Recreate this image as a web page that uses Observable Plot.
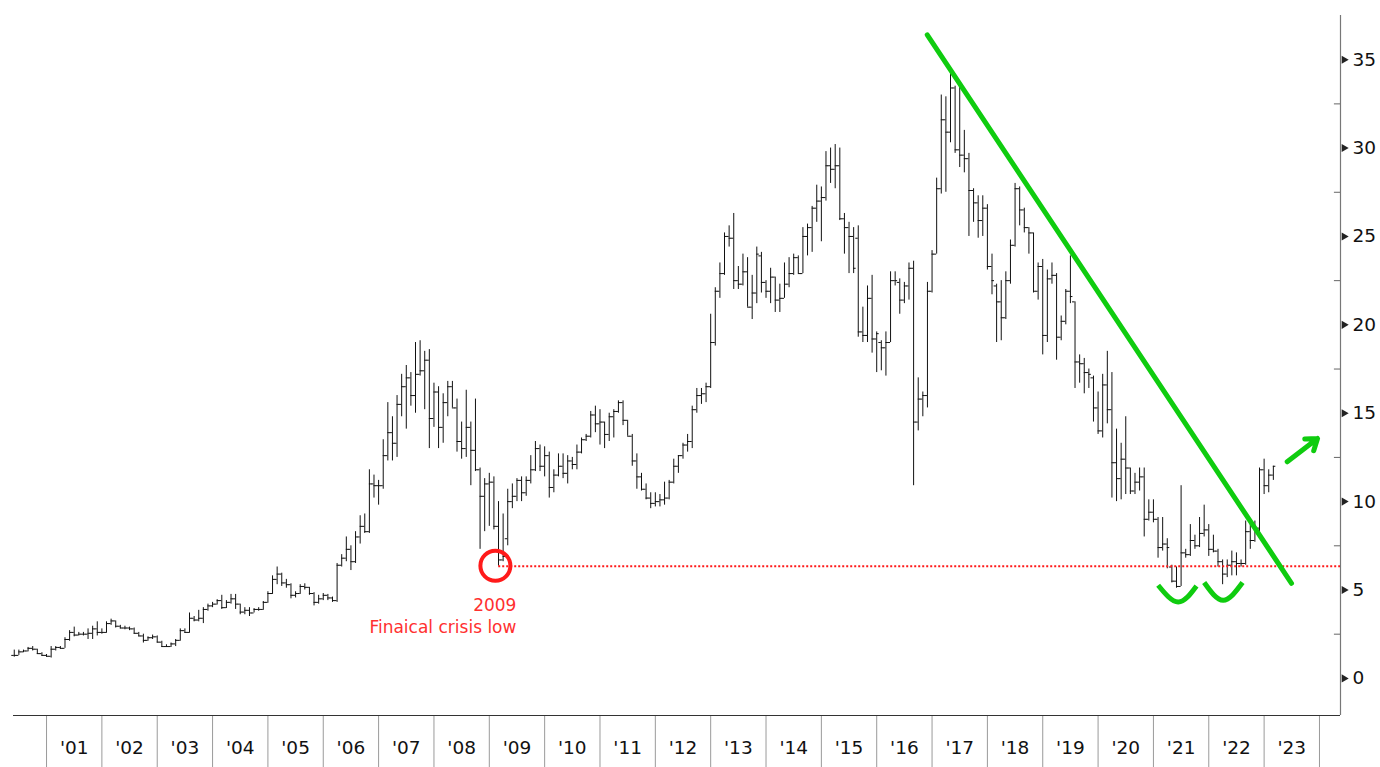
<!DOCTYPE html>
<html>
<head>
<meta charset="utf-8">
<script src="https://cdn.jsdelivr.net/npm/d3@7"></script>
<script src="https://cdn.jsdelivr.net/npm/@observablehq/plot@0.6"></script>
<style>
  html, body { margin: 0; padding: 0; background: #fff; }
  #chart { width: 1380px; height: 767px; }
</style>
</head>
<body>
<div id="chart"></div>
<script>
// Monthly OHLC bars, first bar = June 2000, last bar = March 2023
const startYear = 2000;
const startMonth = 5; // June (0-based)

const open = [
  1.3,1.3,1.5,1.55,1.7,1.65,1.4,1.3,1.25,1.65,1.75,1.7,
  2.2,2.6,2.45,2.5,2.5,2.55,2.8,2.6,2.6,3.1,3.25,2.95,
  2.85,2.85,2.8,2.55,2.4,2.15,2.3,2.35,2.05,1.8,1.8,1.95,
  2.15,2.7,2.6,3.4,3.3,3.4,3.9,4.1,4.2,4.4,4.0,4.3,
  4.5,4.2,3.75,3.85,3.7,3.9,3.9,4.3,4.8,5.6,5.9,5.4,
  5.3,4.7,4.8,5.2,5.15,4.8,4.3,4.5,4.7,4.55,4.4,6.4,
  6.8,7.3,6.6,8.0,8.6,8.3,11.0,10.9,10.9,12.6,13.9,13.3,
  15.5,16.5,17.0,16.0,17.2,17.4,18.0,14.7,16.2,14.2,15.6,16.5,
  15.3,13.4,13.0,14.2,12.9,11.8,10.3,11.0,11.1,8.6,6.7,7.9,
  10.0,10.3,11.2,10.5,11.2,11.8,13.0,12.0,12.6,10.8,11.5,12.0,
  11.6,12.3,12.1,12.8,13.5,13.7,14.9,14.4,14.5,13.8,14.8,15.1,
  15.6,14.6,13.7,12.3,11.4,10.7,10.2,9.9,10.0,10.1,10.2,11.1,
  12.0,12.6,13.2,13.4,15.2,16.0,16.1,16.5,19.0,21.9,22.9,25.0,
  24.9,22.5,22.3,23.0,21.0,21.8,23.9,22.4,21.9,22.7,21.4,21.5,
  22.3,22.9,23.8,22.9,25.0,25.5,26.6,27.0,27.2,29.0,28.8,29.0,
  26.0,25.5,25.0,24.9,19.6,19.4,21.5,19.2,19.0,18.7,19.0,22.5,
  22.4,21.4,22.2,23.2,14.5,15.8,16.0,21.9,24.0,27.7,31.6,30.9,
  33.4,29.9,29.6,29.4,27.6,26.9,25.9,26.6,23.3,22.2,21.3,20.4,
  22.5,24.5,27.7,26.5,25.5,25.2,21.9,23.3,19.4,22.6,22.8,19.3,
  20.2,21.9,21.3,17.9,17.8,17.3,17.0,15.3,14.0,16.6,15.2,12.2,
  11.3,12.4,11.9,10.6,11.1,11.4,9.0,9.4,9.0,7.4,7.6,6.3,
  5.5,5.2,7.1,7.0,7.8,7.5,8.2,8.4,7.3,7.2,6.6,5.9,
  6.4,6.6,6.5,6.5,8.3,7.8,8.5,11.8,10.9,11.5
];
const high = [
  1.6,1.6,1.6,1.75,1.8,1.65,1.45,1.35,1.8,1.8,1.8,2.3,
  2.7,2.9,2.6,2.6,2.8,2.95,3.2,2.8,3.2,3.35,3.25,3.0,
  2.95,2.9,2.85,2.6,2.5,2.35,2.45,2.4,2.1,1.9,2.0,2.2,
  2.8,2.8,3.7,3.5,3.85,4.0,4.2,4.3,4.45,4.7,4.4,4.75,
  4.75,4.2,4.0,4.0,3.95,4.0,4.35,4.9,5.8,6.3,5.95,5.6,
  5.35,4.9,5.3,5.35,5.15,4.85,4.7,4.8,4.75,4.6,6.5,7.0,
  8.0,7.5,8.3,9.2,9.3,11.8,11.5,11.2,13.5,15.6,14.8,16.0,
  17.2,17.7,17.3,19.0,19.1,18.5,18.6,16.7,16.5,16.1,16.8,16.8,
  15.8,14.5,16.3,14.5,15.8,11.9,11.3,11.6,11.4,10.0,9.3,10.7,
  11.0,11.3,11.4,11.4,12.6,13.4,13.2,13.1,12.8,11.8,12.7,12.7,
  12.6,12.5,13.2,13.6,13.8,15.1,15.4,15.2,14.5,15.0,15.2,15.7,
  15.7,14.6,13.8,12.7,11.6,11.0,10.5,10.5,10.4,11.1,11.2,12.4,
  12.6,13.3,13.8,15.4,16.4,16.4,16.7,20.6,22.1,23.5,25.2,25.6,
  26.3,23.3,24.0,23.8,22.8,24.4,24.1,22.5,23.2,22.7,22.3,23.5,
  23.8,24.0,23.9,25.5,25.7,26.7,27.9,27.8,29.8,30.0,30.2,30.0,
  26.3,25.8,25.5,25.6,21.0,22.2,22.8,19.6,19.1,19.6,23.0,23.0,
  22.6,22.4,23.5,23.6,17.0,16.2,22.4,24.2,28.3,33.0,32.9,34.3,
  33.5,33.5,31.0,29.7,27.7,27.3,27.3,26.8,24.0,22.3,22.5,23.0,
  24.8,28.0,27.8,26.6,25.5,25.2,23.5,23.7,23.1,23.5,22.9,20.5,
  22.0,23.9,21.3,18.3,18.1,17.5,17.1,16.2,17.2,18.5,17.3,14.1,
  13.3,14.8,11.9,11.6,11.9,11.9,10.1,10.1,9.1,9.1,7.9,6.4,
  6.3,10.9,7.3,8.7,8.1,9.1,9.8,8.7,8.1,7.3,6.7,6.7,
  7.2,7.1,6.7,8.9,8.7,8.9,11.9,12.4,11.8,12.0
];
const low = [
  1.2,1.3,1.45,1.5,1.55,1.35,1.25,1.2,1.15,1.55,1.65,1.7,
  2.1,2.35,2.4,2.4,2.2,2.2,2.4,2.5,2.55,3.0,2.85,2.8,
  2.75,2.7,2.5,2.35,2.0,2.1,2.2,2.0,1.75,1.75,1.75,1.8,
  2.1,2.55,2.55,3.2,3.2,3.1,3.8,4.0,4.15,3.9,3.95,4.2,
  3.9,3.6,3.6,3.5,3.7,3.8,3.85,4.25,4.75,5.3,5.2,5.1,
  4.5,4.55,4.75,5.0,4.7,4.1,4.2,4.4,4.4,4.3,4.3,6.3,
  6.6,6.1,6.5,7.6,8.2,8.2,10.2,9.8,10.7,12.3,12.3,12.5,
  14.8,14.1,15.4,15.0,17.1,15.2,13.0,14.2,13.0,13.3,14.8,15.3,
  12.8,12.4,12.5,10.9,11.7,7.3,8.3,8.6,8.4,6.35,6.6,7.5,
  9.6,10.0,10.0,10.3,11.0,11.7,11.7,11.4,10.2,10.5,11.4,11.3,
  11.0,11.8,11.8,12.7,13.4,13.6,13.9,13.2,13.0,13.4,13.6,15.0,
  14.3,13.7,12.0,10.7,10.6,10.1,9.6,9.7,9.7,9.8,10.1,11.0,
  11.6,12.4,12.8,13.0,15.0,15.5,15.6,16.4,18.8,21.5,22.8,24.4,
  22.0,22.0,22.2,21.0,20.3,21.2,21.8,21.5,21.2,20.7,20.7,21.5,
  22.1,22.8,22.9,22.9,23.9,24.1,25.8,24.7,27.0,28.0,27.7,25.9,
  24.0,22.9,22.9,19.3,19.0,19.0,18.4,17.3,17.4,17.1,19.0,22.2,
  20.6,21.2,21.4,10.9,14.0,14.8,15.3,21.8,24.0,27.4,27.5,30.3,
  29.7,28.9,28.6,25.0,25.8,24.9,25.0,23.1,21.7,19.0,19.1,20.3,
  22.3,24.4,25.6,25.2,24.0,21.8,21.4,18.3,19.0,22.3,18.0,19.1,
  20.0,21.2,16.4,16.7,16.1,16.4,14.5,13.8,13.6,14.4,10.2,10.0,
  10.1,10.4,10.4,10.4,10.6,8.0,8.9,8.8,6.8,7.2,6.2,5.4,
  5.1,5.2,6.8,6.9,7.3,7.4,8.0,6.9,7.1,6.3,5.3,5.7,
  5.8,5.8,6.3,6.4,7.3,7.7,8.0,10.4,10.5,11.2
];
const close = [
  1.3,1.5,1.55,1.7,1.65,1.4,1.3,1.25,1.65,1.75,1.7,2.2,
  2.6,2.45,2.5,2.5,2.55,2.8,2.6,2.6,3.1,3.25,2.95,2.85,
  2.85,2.8,2.55,2.4,2.15,2.3,2.35,2.05,1.8,1.8,1.95,2.15,
  2.7,2.6,3.4,3.3,3.4,3.9,4.1,4.2,4.4,4.0,4.3,4.5,
  4.2,3.75,3.85,3.7,3.9,3.9,4.3,4.8,5.6,5.9,5.4,5.3,
  4.7,4.8,5.2,5.15,4.8,4.3,4.5,4.7,4.55,4.4,6.4,6.8,
  7.3,6.6,8.0,8.6,8.3,11.0,10.9,10.9,12.6,13.9,13.3,15.5,
  16.5,17.0,16.0,17.2,17.4,18.0,14.7,16.2,14.2,15.6,16.5,15.3,
  13.4,13.0,14.2,12.9,11.8,10.3,11.0,11.1,8.6,6.7,6.9,10.0,
  10.3,11.2,10.5,11.2,11.8,13.0,12.0,12.6,10.8,11.5,12.0,11.6,
  12.3,12.1,12.8,13.5,13.7,14.9,14.4,14.5,13.8,14.8,15.1,15.6,
  14.6,13.7,12.3,11.4,10.7,10.2,9.9,10.0,10.1,10.2,11.1,12.0,
  12.6,13.2,13.4,15.2,16.0,16.1,16.5,19.0,21.9,22.9,25.0,24.9,
  22.5,22.3,23.0,21.0,21.8,24.0,22.4,21.9,22.7,21.4,21.5,22.3,
  22.9,23.8,22.9,25.0,25.5,26.6,27.0,27.2,29.0,28.8,29.0,26.0,
  25.5,25.0,23.2,19.6,19.4,21.5,19.2,19.5,18.7,19.0,22.5,22.5,
  21.4,22.2,23.2,14.5,15.8,16.0,21.9,24.0,27.7,31.6,30.9,33.4,
  29.9,29.6,29.4,27.6,26.9,25.9,26.6,23.3,22.5,21.3,20.4,22.5,
  24.5,27.7,26.5,25.5,25.2,21.9,23.3,19.4,22.6,22.8,19.3,20.2,
  21.9,21.6,17.9,17.8,17.3,17.2,15.3,14.0,16.6,15.2,12.2,11.3,
  12.4,11.9,10.6,11.1,11.4,9.0,9.4,9.0,7.4,7.6,7.4,5.5,
  5.2,7.1,7.0,7.8,7.5,8.2,8.4,7.3,7.2,6.6,5.9,6.4,
  6.6,6.5,6.5,8.3,7.8,8.5,11.8,10.9,11.5,12.0
];

// Axis tick values / labels
const yearStarts = d3.range(2001, 2025);
const yearLabels = ["'01","'02","'03","'04","'05","'06","'07","'08","'09","'10","'11","'12",
                    "'13","'14","'15","'16","'17","'18","'19","'20","'21","'22","'23"];
const yTicks = [0, 5, 10, 15, 20, 25, 30, 35];
const yMinorTicks = [2.5, 7.5, 12.5, 17.5, 22.5, 27.5, 32.5];

// Annotations (data coordinates: decimal year, price)
const trendLine = [{t: 2016.913, v: 36.41}, {t: 2023.495, v: 5.38}];
const crisisLowLevel = 6.34;
const crisisLowStart = 2009.17;
const crisisCircle = [{t: 2009.11, v: 6.37}];
const crisisText = [{t: 2009.49, v: 4.12, label: "2009"}, {t: 2009.49, v: 2.88, label: "Finaical crisis low"}];
const bottomArcs = [
  {arc: 1, t: 2021.085, v: 5.27}, {arc: 1, t: 2021.447, v: 4.32}, {arc: 1, t: 2021.778, v: 5.23},
  {arc: 2, t: 2021.917, v: 5.42}, {arc: 2, t: 2022.26, v: 4.42}, {arc: 2, t: 2022.61, v: 5.42}
];
const breakoutArrow = [{t1: 2023.417, v1: 12.25, t2: 2023.965, v2: 13.57}];

const xDomain = [2000.403, 2024.38];
const yDomain = [-2.1, 37.5];

const bars = close.map((c, i) => ({
  t: startYear + (startMonth + i) / 12,
  o: open[i], h: high[i], l: low[i], c
}));

const tickLen = 0.045; // years
const green = "#0fcc0f";
const red = "#ff1a1a";

const chart = Plot.plot({
  width: 1380,
  height: 767,
  marginLeft: 13,
  marginRight: 40,
  marginTop: 15,
  marginBottom: 52,
  style: {fontFamily: "'DejaVu Sans', Verdana, sans-serif", fontSize: "18px", background: "#fff", color: "#111"},
  x: {domain: xDomain, axis: null},
  y: {domain: yDomain, axis: null},
  marks: [
    // year separators below the axis
    Plot.axisX(yearStarts, {tickSize: 52, tickFormat: () => "", stroke: "#9a9a9a", strokeOpacity: 1}),
    // year labels centered in each year
    Plot.text(yearLabels, {x: (d, i) => yearStarts[i] + 0.5, frameAnchor: "bottom", dy: 38, fontSize: 18.5, fill: "#111"}),
    // axis lines
    Plot.ruleY([yDomain[0]], {stroke: "#333", strokeWidth: 1.2}),
    Plot.ruleX([xDomain[1]], {stroke: "#777", strokeWidth: 1.2}),
    // y ticks
    Plot.ruleY(yMinorTicks, {x1: xDomain[1] - 0.11, x2: xDomain[1], stroke: "#666"}),
    Plot.dot(yTicks, {y: d => d, frameAnchor: "right", dx: 3.5, symbol: "triangle", rotate: 90, r: 3, fill: "#222", stroke: null}),
    Plot.text(yTicks, {y: d => d, frameAnchor: "right", dx: 12, textAnchor: "start", text: d => String(d), fontSize: 18.5, fill: "#111"}),
    // OHLC bars
    Plot.ruleX(bars, {x: "t", y1: "l", y2: "h", stroke: "#111", strokeWidth: 1}),
    Plot.ruleY(bars, {y: "o", x1: d => d.t - tickLen, x2: "t", stroke: "#111", strokeWidth: 1}),
    Plot.ruleY(bars, {y: "c", x1: "t", x2: d => d.t + tickLen, stroke: "#111", strokeWidth: 1}),
    // financial crisis low
    Plot.ruleY([crisisLowLevel], {x1: crisisLowStart, x2: xDomain[1], stroke: red, strokeWidth: 2, strokeDasharray: "2,2"}),
    Plot.dot(crisisCircle, {x: "t", y: "v", r: 15, stroke: red, strokeWidth: 4, fill: "none"}),
    Plot.text(crisisText, {x: "t", y: "v", text: "label", textAnchor: "end", fill: "#ff3030", fontSize: 17}),
    // trend line
    Plot.line(trendLine, {x: "t", y: "v", stroke: green, strokeWidth: 5}),
    // double-bottom arcs
    Plot.line(bottomArcs, {x: "t", y: "v", z: "arc", curve: "natural", stroke: green, strokeWidth: 5, strokeLinecap: "butt"}),
    // breakout arrow
    Plot.arrow(breakoutArrow, {x1: "t1", y1: "v1", x2: "t2", y2: "v2", stroke: green, strokeWidth: 5, headLength: 15, headAngle: 70})
  ]
});

document.getElementById("chart").appendChild(chart);
</script>
</body>
</html>
